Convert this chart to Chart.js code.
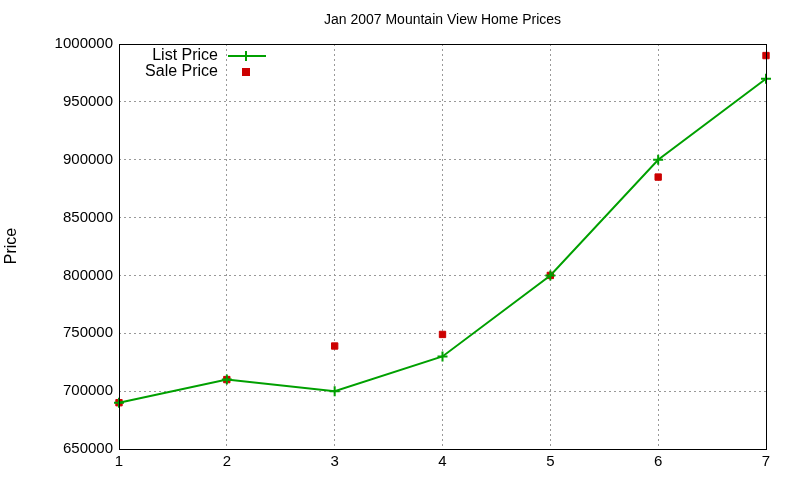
<!DOCTYPE html>
<html><head><meta charset="utf-8">
<script src="https://cdn.jsdelivr.net/npm/chart.js@4/dist/chart.umd.min.js"></script>
<style>html,body{margin:0;padding:0;background:#fff}</style>
</head><body><canvas id="c" width="800" height="480" style="width:800px;height:480px;display:block"></canvas>
<script>
const categories=[1,2,3,4,5,6,7];
const listPrice=[690000,710000,700000,730000,800000,900000,970000];
const salePrice=[690000,710000,739000,749000,800000,885000,990000];
const titleText="Jan 2007 Mountain View Home Prices";
const F="'Liberation Sans', Arial, sans-serif";
const green="#00a000", red="#cc0000";
const deco={id:'deco',afterDraw(ch){
  const c=ch.ctx,a=ch.chartArea;
  c.save();
  c.fillStyle='#000';c.font="14px "+F;c.textAlign='center';c.textBaseline='middle';
  c.fillText(titleText,(a.left+a.right)/2,20);
  c.font="16px "+F;
  c.translate(12,246);c.rotate(-Math.PI/2);c.fillText("Price",0,0);
  c.restore();c.save();
  c.strokeStyle='#000';c.lineWidth=1;c.strokeRect(a.left+0.5,a.top+0.5,a.right-a.left,a.bottom-a.top);
  c.font="16px "+F;c.textAlign='right';c.textBaseline='middle';c.fillStyle='#000';
  c.fillText("List Price",218,56);c.fillText("Sale Price",218,72);
  c.strokeStyle=green;c.lineWidth=2;c.beginPath();c.moveTo(228,56);c.lineTo(266,56);c.stroke();
  c.beginPath();c.moveTo(241,56);c.lineTo(251,56);c.moveTo(246,51);c.lineTo(246,61);c.stroke();
  c.fillStyle=red;c.fillRect(242,68,8,8);
  c.restore();
}};
new Chart(document.getElementById('c'),{
  type:'line',
  data:{datasets:[
    {label:'List Price',data:categories.map((x,i)=>({x,y:listPrice[i]})),borderColor:green,backgroundColor:green,borderWidth:2,pointStyle:'cross',pointRadius:5,pointBorderWidth:2,clip:false},
    {label:'Sale Price',data:categories.map((x,i)=>({x,y:salePrice[i]})),showLine:false,borderColor:red,backgroundColor:red,pointStyle:'rect',pointRadius:4.5,clip:false}
  ]},
  options:{responsive:false,animation:false,devicePixelRatio:1,
    layout:{padding:{top:44,right:34,left:0,bottom:0}},
    plugins:{legend:{display:false},title:{display:false},tooltip:{enabled:false}},
    scales:{
      x:{type:'linear',min:1,max:7,ticks:{stepSize:1,autoSkip:false,color:'#000',font:{family:F,size:15},padding:4},
        grid:{color:'#999',drawTicks:false},border:{display:false,dash:[2,3]},
        afterFit(s){s.height=31;}},
      y:{min:650000,max:1000000,ticks:{stepSize:50000,autoSkip:false,color:'#000',font:{family:F,size:15},padding:6,callback:v=>String(v)},
        grid:{color:'#999',drawTicks:false},border:{display:false,dash:[2,3]},
        afterFit(s){s.width=119;}}
    }},
  plugins:[deco]
});
</script></body></html>
